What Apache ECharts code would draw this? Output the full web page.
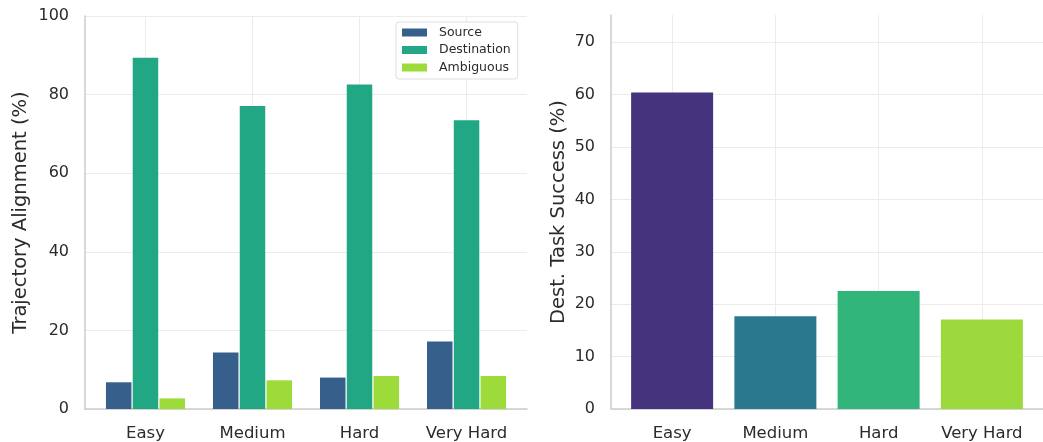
<!DOCTYPE html>
<html>
<head>
<meta charset="utf-8">
<script src="https://cdn.jsdelivr.net/npm/echarts@6/dist/echarts.min.js"></script>
<style>
  html, body { margin: 0; padding: 0; background: #ffffff; }
  #chart { width: 1043px; height: 442px; }
</style>
</head>
<body>
<div id="chart"></div>
<script>
// Difficulty levels shared by both panels
const categories = ['Easy', 'Medium', 'Hard', 'Very Hard'];

// Trajectory alignment (%) per difficulty
const sourceAlign = [6.8, 14.4, 8.0, 17.2];
const destAlign = [89.4, 77.1, 82.6, 73.5];
const ambiguousAlign = [2.7, 7.3, 8.4, 8.4];

// Destination task success (%) per difficulty
const destSuccess = [60.4, 17.7, 22.5, 17.1];

// Tick labels
const alignTicks = [0, 20, 40, 60, 80, 100];
const successTicks = [0, 10, 20, 30, 40, 50, 60, 70];

const FONT = 'DejaVu Sans';
const TEXT = '#2b2b2b';
const GRID_LINE = '#ebebeb';
const SPINE = '#cccccc';

const catIdx = categories.map((_, i) => i);
const pairs = vals => vals.map((v, i) => [i, v]);

const successColors = ['#46337e', '#2a788e', '#31b57b', '#9bd93c'];

function catAxis(gridIndex, min, max) {
  return {
    type: 'value', gridIndex, min, max,
    axisLine: { show: true, onZero: false, lineStyle: { color: SPINE, width: 1.5 } },
    axisTick: { show: false, customValues: catIdx },
    axisLabel: {
      customValues: catIdx,
      formatter: v => categories[Math.round(v)],
      color: TEXT, fontFamily: FONT, fontSize: 16.5, margin: 16
    },
    splitLine: { show: true, lineStyle: { color: GRID_LINE, width: 1 } }
  };
}

function valAxis(gridIndex, max, ticks, name, nameGap) {
  return {
    type: 'value', gridIndex, min: 0, max,
    name, nameLocation: 'middle', nameGap,
    nameTextStyle: { color: TEXT, fontFamily: FONT, fontSize: 19.5 },
    axisLine: { show: true, onZero: false, lineStyle: { color: SPINE, width: 1.5 } },
    axisTick: { show: false, customValues: ticks },
    axisLabel: { customValues: ticks, color: TEXT, fontFamily: FONT, fontSize: 16, margin: 16 },
    splitLine: { show: true, lineStyle: { color: GRID_LINE, width: 1 } }
  };
}

const chart = echarts.init(document.getElementById('chart'), null, { renderer: 'canvas' });

chart.setOption({
  backgroundColor: '#ffffff',
  animation: false,
  textStyle: { fontFamily: FONT },
  grid: [
    { left: 85, top: 16, width: 442, height: 395 },
    { left: 611, top: 15, width: 441.5, height: 396 }
  ],
  legend: {
    left: 396, top: 22,
    orient: 'vertical',
    icon: 'rect',
    itemWidth: 25, itemHeight: 8, itemGap: 4.5,
    padding: [4, 7, 5, 6],
    borderColor: '#dddddd', borderWidth: 1, borderRadius: 3,
    backgroundColor: '#ffffff',
    textStyle: { color: TEXT, fontFamily: FONT, fontSize: 12.5, padding: [0, 0, 0, 7] },
    data: ['Source', 'Destination', 'Ambiguous']
  },
  xAxis: [
    catAxis(0, -0.565, 3.565),
    catAxis(1, -0.592, 3.592)
  ],
  yAxis: [
    valAxis(0, 100, alignTicks, 'Trajectory Alignment (%)', 54),
    valAxis(1, 75.2, successTicks, 'Dest. Task Success (%)', 42)
  ],
  series: [
    {
      name: 'Source', type: 'bar', xAxisIndex: 0, yAxisIndex: 0,
      barWidth: 25.5, barGap: '5%',
      itemStyle: { color: '#365f8c' },
      data: pairs(sourceAlign)
    },
    {
      name: 'Destination', type: 'bar', xAxisIndex: 0, yAxisIndex: 0,
      barWidth: 25.5, barGap: '5%',
      itemStyle: { color: '#22a784' },
      data: pairs(destAlign)
    },
    {
      name: 'Ambiguous', type: 'bar', xAxisIndex: 0, yAxisIndex: 0,
      barWidth: 25.5, barGap: '5%',
      itemStyle: { color: '#9ddb3a' },
      data: pairs(ambiguousAlign)
    },
    {
      name: 'Dest. Task Success', type: 'bar', xAxisIndex: 1, yAxisIndex: 1,
      barWidth: 82,
      data: destSuccess.map((v, i) => ({ value: [i, v], itemStyle: { color: successColors[i] } }))
    }
  ]
});
</script>
</body>
</html>
